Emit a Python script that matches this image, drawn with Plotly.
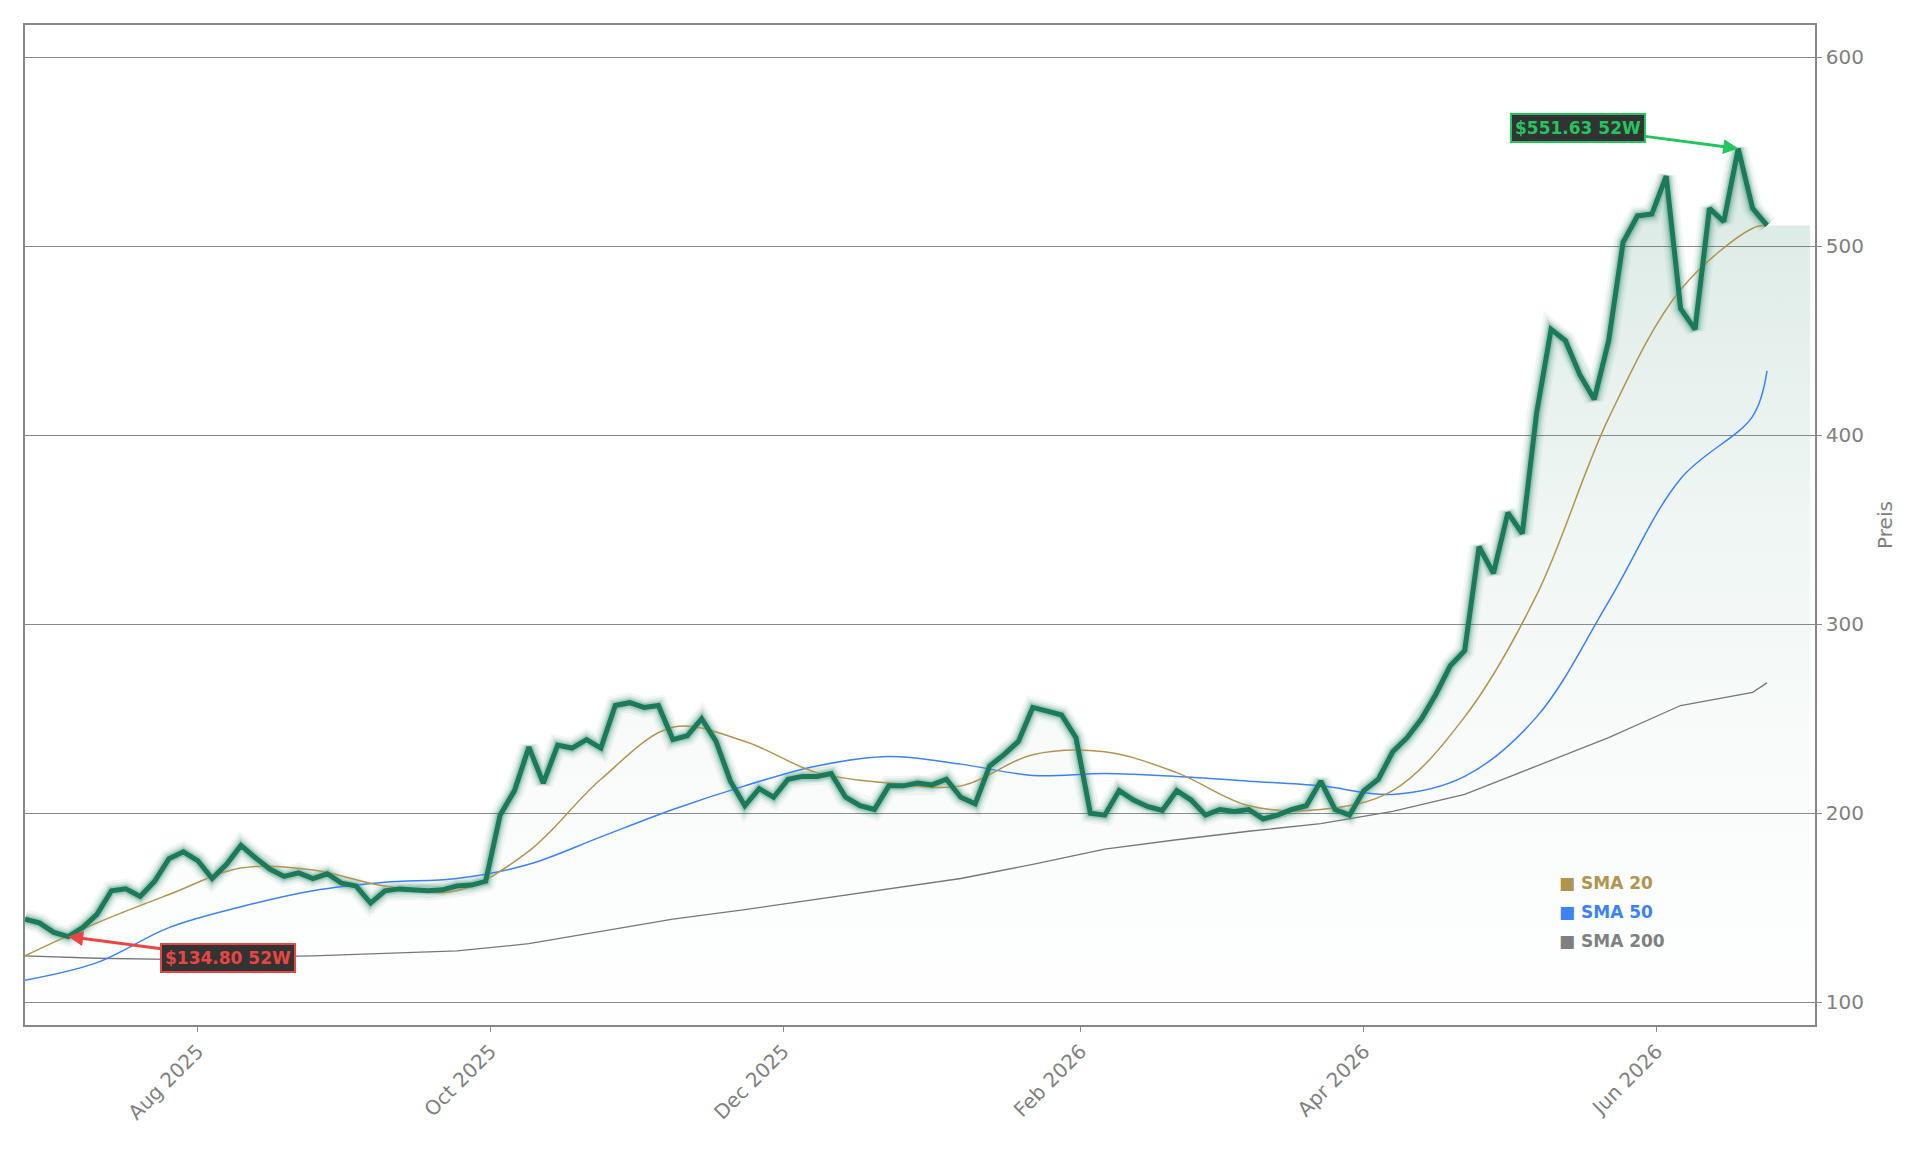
import plotly.graph_objects as go
import pandas as pd

start = pd.Timestamp("2025-06-26")
price = [144,142,137,134.8,139.5,146.5,159,160,156,164,176,179.6,175,165.5,173,183,176.5,170.5,166.6,168.5,
         165.5,168,163,161.5,152.5,159,160,159.5,159,159.5,161.5,162,164,199,212,235,216,236,234.5,239,
         234.5,257,258.5,256,257,239,241,250,238,217,204,213,208.5,218,219.5,219.5,221,208.5,204,202,
         214.5,214.5,216,215,218,208.5,205,225,231,238,256,254,252,240,200,199,212,207,203.5,201.5,
         212,207,199,202,201,202,197,199,202,204,217,202,199,212,218,232.5,240,250,263,278,
         286,341,327,359,348,412,456,450,432,419,450,502,516,517,537,467,456,520,513,551.63,
         520,511]
dates = [start + pd.Timedelta(days=3*i) for i in range(len(price))]

sma_idx = list(range(0, 121, 5)) + [121]
sma_dates = [dates[i] for i in sma_idx]
sma20 = [124.6,142,157,171,170,161.5,159,180,218,245.5,238,221.5,216,214.5,231,232.5,221.5,204,202,212,251,315.5,409,477,509.5,511]
sma50 = [111.7,121,139.5,150.5,159,163.5,165.5,173,187.5,202,214.5,225,230,226,220,221,219.5,217,214.5,210,219.5,251,312,377,410,434]
sma200 = [124.6,123.3,122.7,124,124.6,126,127.2,131,137.5,144,149,154.5,160,165.5,173,181,186,190.5,194.5,201,210,225,240,257,264,269]

end_fill = pd.Timestamp("2026-07-03")
fig = go.Figure()
fig.add_trace(go.Scatter(x=dates + [end_fill], y=price + [price[-1]], mode="lines", line=dict(width=0),
                         fill="tozeroy",
                         fillgradient=dict(type="vertical", colorscale=[[0, "rgba(255,255,255,0)"], [1, "rgba(26,122,90,0.17)"]]),
                         showlegend=False, hoverinfo="skip"))
for w, op in [(20, 0.06), (15, 0.09), (11, 0.13), (8, 0.2)]:
    fig.add_trace(go.Scatter(x=dates, y=price, mode="lines", line=dict(color=f"rgba(26,122,90,{op})", width=w),
                             showlegend=False, hoverinfo="skip"))
fig.add_trace(go.Scatter(x=sma_dates, y=sma200, mode="lines", line=dict(color="#777777", width=1.3), showlegend=False))
fig.add_trace(go.Scatter(x=sma_dates, y=sma50, mode="lines", line=dict(color="#3b82f6", width=1.5, shape="spline"), showlegend=False))
fig.add_trace(go.Scatter(x=sma_dates, y=sma20, mode="lines", line=dict(color="#b09450", width=1.5, shape="spline"), showlegend=False))
fig.add_trace(go.Scatter(x=dates, y=price, mode="lines", line=dict(color="#1b7a5a", width=5), showlegend=False))

fig.add_annotation(x=dates[3], y=134.8, text="<b>$134.80 52W</b>", ax=160, ay=21, showarrow=True,
                   arrowcolor="#e84545", arrowwidth=3, arrowhead=2, arrowsize=1, bgcolor="#333333",
                   bordercolor="#e84545", borderwidth=2, borderpad=3, font=dict(color="#e84545", size=17))
fig.add_annotation(x=dates[119], y=551.63, text="<b>$551.63 52W</b>", ax=-160, ay=-21, showarrow=True,
                   arrowcolor="#22c55e", arrowwidth=3, arrowhead=2, arrowsize=1, bgcolor="#333333",
                   bordercolor="#22c55e", borderwidth=2, borderpad=3, font=dict(color="#22c55e", size=17))
for k, (t, c) in enumerate([("SMA 20", "#b09450"), ("SMA 50", "#3b82f6"), ("SMA 200", "#808080")]):
    fig.add_annotation(xref="paper", yref="paper", x=0.856, y=0.142 - k*0.029, xanchor="left", yanchor="middle",
                       text=f"<b>■ {t}</b>", showarrow=False, font=dict(color=c, size=17))

axis_common = dict(showline=True, linecolor="#888888", linewidth=1.5, mirror=True, ticks="outside",
                   tickcolor="#888888", tickfont=dict(color="#808080", size=20), zeroline=False)
fig.update_xaxes(range=[pd.Timestamp("2025-06-26"), pd.Timestamp("2026-07-04")], dtick="M2",
                 tick0="2025-08-01", tickformat="%b %Y", tickangle=-45, showgrid=False, **axis_common)
fig.update_yaxes(range=[88, 617], side="right", tickvals=[100, 200, 300, 400, 500, 600], showgrid=True,
                 gridcolor="#888888", gridwidth=1.2, title=dict(text="Preis", font=dict(color="#808080", size=20)),
                 **axis_common)
fig.update_layout(width=1921, height=1151, margin=dict(l=17, r=114, t=17, b=134),
                  plot_bgcolor="white", paper_bgcolor="white", font=dict(family="DejaVu Sans"))
fig.write_html("out.html")
